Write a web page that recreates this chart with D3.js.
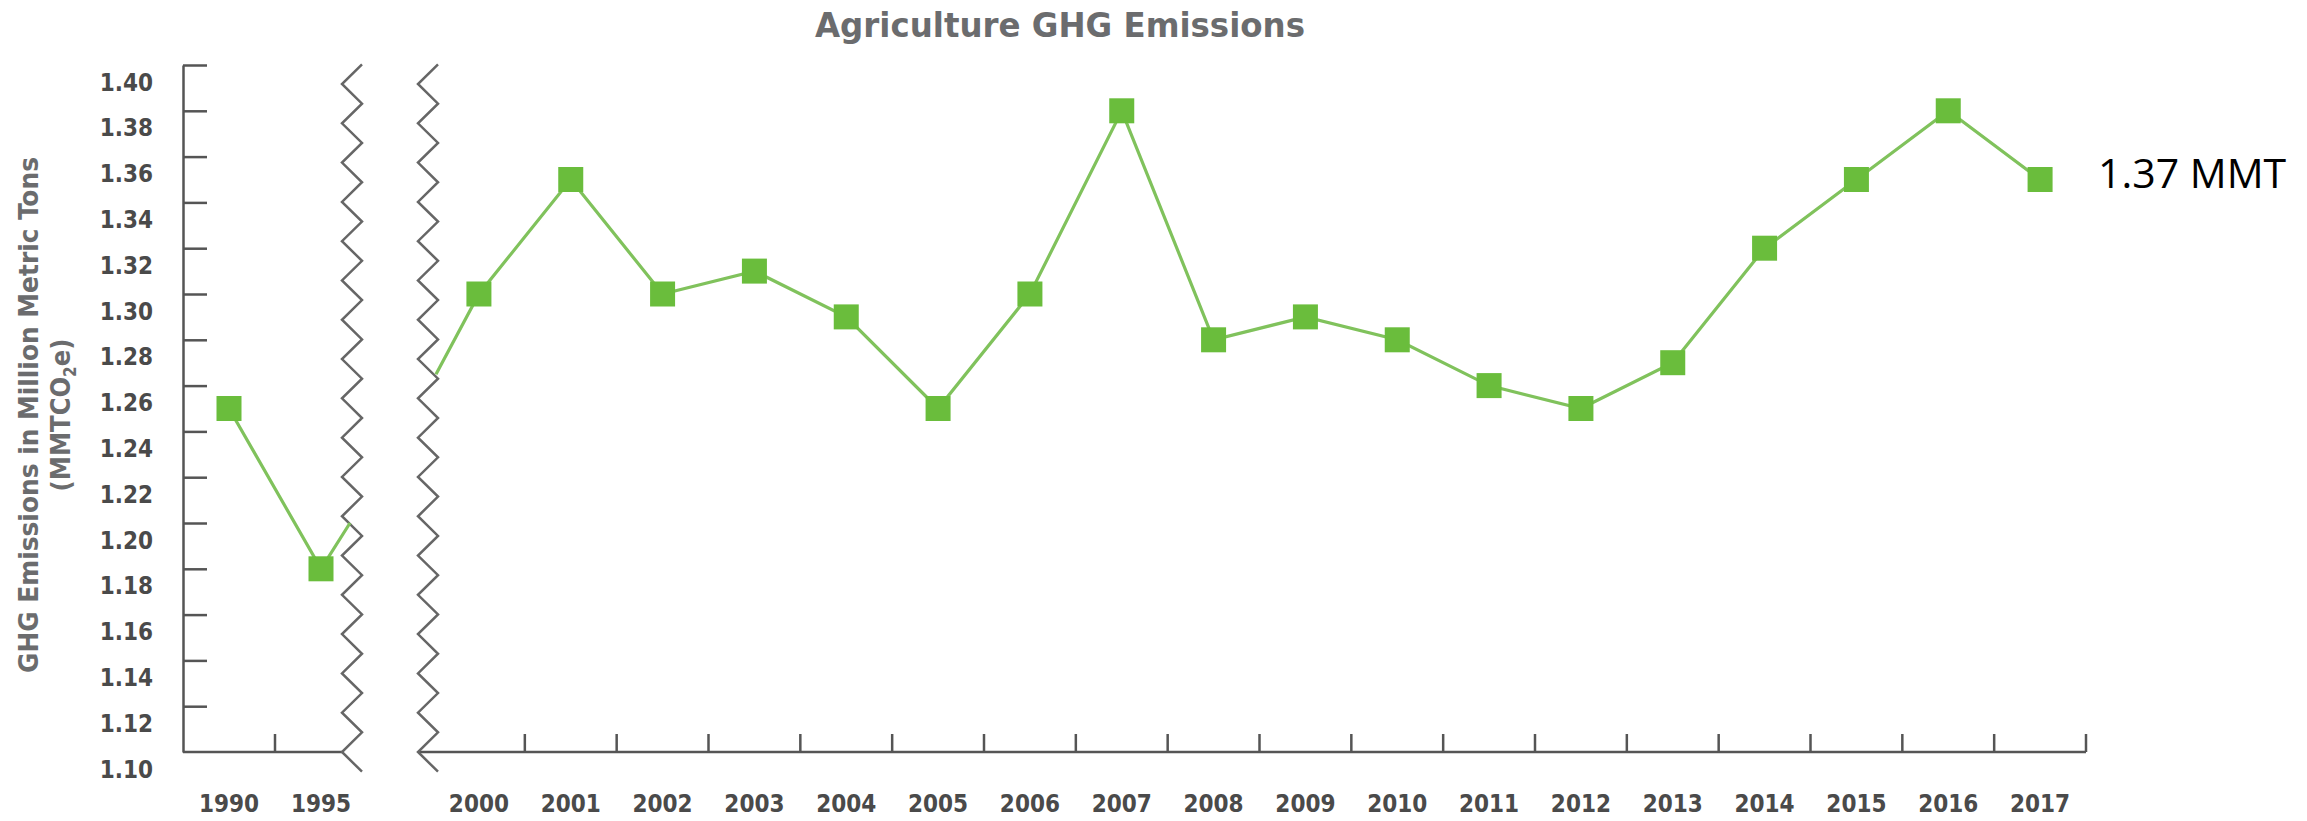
<!DOCTYPE html>
<html>
<head>
<meta charset="utf-8">
<script src="https://cdn.jsdelivr.net/npm/d3@7/dist/d3.min.js"></script>
<style>
  html, body { margin: 0; padding: 0; background: #ffffff; }
  svg { display: block; }
  .cond { font-family: "DejaVu Sans Condensed", "DejaVu Sans", sans-serif; font-stretch: condensed; font-weight: bold; }
</style>
</head>
<body>
<script>
// ---- data ----
const years1 = ["1990", "1995"];
const values1 = [1.25, 1.18];
const years2 = ["2000", "2001", "2002", "2003", "2004", "2005", "2006", "2007", "2008",
                "2009", "2010", "2011", "2012", "2013", "2014", "2015", "2016", "2017"];
const values2 = [1.30, 1.35, 1.30, 1.31, 1.29, 1.25, 1.30, 1.38, 1.28,
                 1.29, 1.28, 1.26, 1.25, 1.27, 1.32, 1.35, 1.38, 1.35];
const yTicks = [1.10, 1.12, 1.14, 1.16, 1.18, 1.20, 1.22, 1.24, 1.26, 1.28, 1.30, 1.32, 1.34, 1.36, 1.38, 1.40];
// line values where the 1995→2000 segment meets the axis breaks
const breakValues = [1.20, 1.265];
const titleText = "Agriculture GHG Emissions";
const yTitle1 = "GHG Emissions in Million Metric Tons";
const annotationText = "1.37 MMT";

// ---- layout ----
const W = 2307, H = 821;
const svg = d3.select("body").append("svg").attr("width", W).attr("height", H);

const y = d3.scaleLinear().domain([1.10, 1.40]).range([752, 65]);
const x1 = d3.scaleBand().domain(years1).range([183, 367]);
const x2 = d3.scaleBand().domain(years2).range([433, 2086]);

const axisColor = "#555555";
const labelColor = "#4a4a4a";
const titleColor = "#6b6c6e";
const lineGreen = "#80c25c";
const boxGreen = "#6abd3c";

// title
svg.append("text").attr("class", "cond")
  .attr("x", 1060).attr("y", 37).attr("text-anchor", "middle")
  .attr("font-size", 33).attr("fill", titleColor)
  .attr("textLength", 490).attr("lengthAdjust", "spacingAndGlyphs")
  .text(titleText);

// y axis title (two lines, rotated)
const yt = svg.append("g").attr("transform", "translate(0,415) rotate(-90)");
yt.append("text").attr("class", "cond")
  .attr("x", 0).attr("y", 38).attr("text-anchor", "middle")
  .attr("font-size", 27).attr("fill", titleColor)
  .attr("textLength", 516).attr("lengthAdjust", "spacingAndGlyphs")
  .text(yTitle1);
const t2 = yt.append("text").attr("class", "cond")
  .attr("x", 0).attr("y", 70).attr("text-anchor", "middle")
  .attr("font-size", 27).attr("fill", titleColor);
t2.append("tspan").text("(MMTCO");
t2.append("tspan").attr("font-size", 17).attr("dy", 6).text("2");
t2.append("tspan").attr("dy", -6).text("e)");

// y axis
const yAxis = d3.axisLeft(y).tickValues(yTicks).tickFormat(d3.format(".2f"))
  .tickSizeInner(-24).tickSizeOuter(0).tickPadding(30);
const gy = svg.append("g").attr("transform", "translate(183,0)").call(yAxis);
gy.select(".domain").attr("stroke", axisColor).attr("stroke-width", 2.5);
gy.selectAll(".tick line").attr("stroke", axisColor).attr("stroke-width", 2.5);
gy.selectAll(".tick text").attr("class", "cond").attr("font-size", 24)
  .attr("fill", labelColor).attr("y", 25).attr("dy", 0);
gy.selectAll(".tick").filter(d => d === 1.10).select("line").remove();

// x axes (labels at band centers; ticks at band boundaries)
function styleX(g) {
  g.select(".domain").remove();
  g.selectAll(".tick line").remove();
  g.selectAll(".tick text").attr("class", "cond").attr("font-size", 24)
    .attr("fill", labelColor).attr("y", 60).attr("dy", 0);
}
svg.append("g").attr("transform", "translate(0,752)")
  .call(d3.axisBottom(x1).tickSize(0)).call(styleX);
svg.append("g").attr("transform", "translate(0,752)")
  .call(d3.axisBottom(x2).tickSize(0)).call(styleX);

// axis baselines
svg.append("line").attr("x1", 183).attr("x2", 342).attr("y1", y(1.10)).attr("y2", y(1.10))
  .attr("stroke", axisColor).attr("stroke-width", 2.5);
svg.append("line").attr("x1", 418).attr("x2", x2.range()[1]).attr("y1", y(1.10)).attr("y2", y(1.10))
  .attr("stroke", axisColor).attr("stroke-width", 2.5);

// boundary ticks
const b1 = [years1[0]].map(d => x1(d) + x1.bandwidth());
const b2 = years2.map(d => x2(d) + x2.bandwidth());
svg.append("g").selectAll("line").data(b1.concat(b2)).join("line")
  .attr("x1", d => d).attr("x2", d => d)
  .attr("y1", y(1.10)).attr("y2", y(1.10) - 18)
  .attr("stroke", axisColor).attr("stroke-width", 2.5);

// zigzag break marks
function zigzag(xl) {
  const P = (y(1.10) - 84) / 17;
  const pts = [];
  const base = y(1.10);
  pts.push([xl + 20, base - 17 * P - P / 2]);
  for (let k = 17; k >= 0; k--) {
    pts.push([xl, base - k * P]);
    pts.push([xl + 20, base - k * P + P / 2]);
  }
  return pts;
}
[342, 418].forEach(xl => {
  svg.append("path").attr("d", d3.line()(zigzag(xl)))
    .attr("fill", "none").attr("stroke", "#666666").attr("stroke-width", 2.5)
    .attr("stroke-linejoin", "miter");
});

// data lines
const pts1 = years1.map((d, i) => [x1(d) + x1.bandwidth() / 2, y(values1[i])]);
pts1.push([350, y(breakValues[0])]);
const pts2 = [[436, y(breakValues[1])]].concat(
  years2.map((d, i) => [x2(d) + x2.bandwidth() / 2, y(values2[i])]));

const line = d3.line();
[pts1, pts2].forEach(p => {
  svg.append("path").attr("d", line(p)).attr("fill", "none")
    .attr("stroke", lineGreen).attr("stroke-width", 3.2);
});

// square markers
const S = 25;
const marks = years1.map((d, i) => ({ x: x1(d) + x1.bandwidth() / 2, v: values1[i] }))
  .concat(years2.map((d, i) => ({ x: x2(d) + x2.bandwidth() / 2, v: values2[i] })));
svg.append("g").selectAll("rect").data(marks).join("rect")
  .attr("x", d => d.x - S / 2).attr("y", d => y(d.v) - S / 2)
  .attr("width", S).attr("height", S).attr("fill", boxGreen);

// annotation
svg.append("text")
  .attr("x", 2098).attr("y", 188)
  .attr("font-family", "'Open Sans', 'Liberation Sans', sans-serif")
  .attr("font-size", 41).attr("fill", "#000000")
  .text(annotationText);
</script>
</body>
</html>
